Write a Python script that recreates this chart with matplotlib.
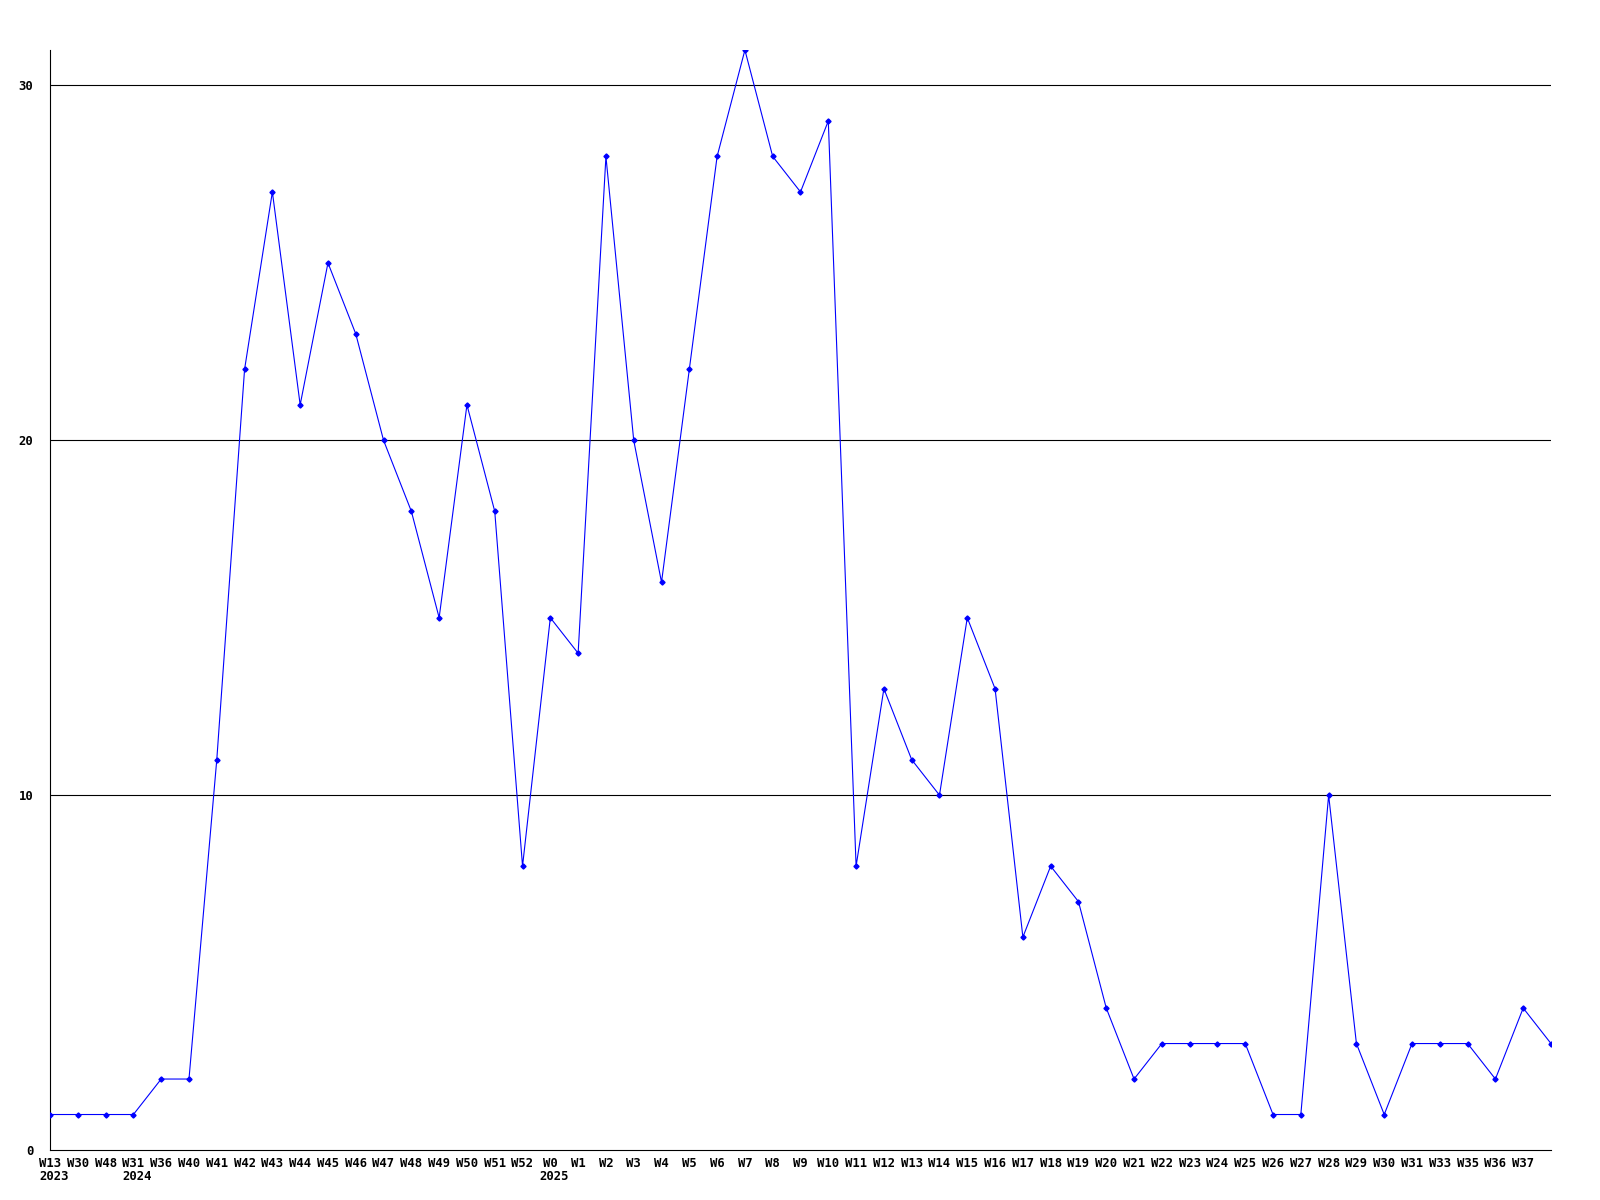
import matplotlib
matplotlib.use('Agg')
import matplotlib.pyplot as plt
from matplotlib.transforms import blended_transform_factory

weeks = ['W13', 'W30', 'W48', 'W31', 'W36', 'W40', 'W41', 'W42', 'W43', 'W44',
         'W45', 'W46', 'W47', 'W48', 'W49', 'W50', 'W51', 'W52', 'W0', 'W1',
         'W2', 'W3', 'W4', 'W5', 'W6', 'W7', 'W8', 'W9', 'W10', 'W11',
         'W12', 'W13', 'W14', 'W15', 'W16', 'W17', 'W18', 'W19', 'W20', 'W21',
         'W22', 'W23', 'W24', 'W25', 'W26', 'W27', 'W28', 'W29', 'W30', 'W31',
         'W33', 'W35', 'W36', 'W37', '']
counts = [1, 1, 1, 1, 2, 2, 11, 22, 27, 21,
          25, 23, 20, 18, 15, 21, 18, 8, 15, 14,
          28, 20, 16, 22, 28, 31, 28, 27, 29, 8,
          13, 11, 10, 15, 13, 6, 8, 7, 4, 2,
          3, 3, 3, 3, 1, 1, 10, 3, 1, 3,
          3, 3, 2, 4, 3]
years = {0: '2023', 3: '2024', 18: '2025'}

font = 'DejaVu Sans Mono'
fsize = 8.8

fig = plt.figure(figsize=(16, 12), dpi=100)
ax = fig.add_axes([50 / 1600, 1 - 1150 / 1200, 1501 / 1600, 1100 / 1200])

xs = list(range(len(counts)))
ax.plot(xs, counts, color='#0000ff', linewidth=0.8, marker='D', markersize=2.6,
        zorder=3)

ax.set_xlim(0, len(counts) - 1)
ax.set_ylim(0, 31)

# only the three inner grid lines, the 0 line is the axis itself
for y in [10, 20, 30]:
    ax.axhline(y, color='black', linewidth=0.8, zorder=1)

ax.spines['top'].set_visible(False)
ax.spines['right'].set_visible(False)
ax.spines['left'].set_linewidth(0.8)
ax.spines['bottom'].set_linewidth(0.8)

ax.set_yticks([0, 10, 20, 30])
ax.set_yticklabels(['0', '10', '20', '30'], fontfamily=font,
                   fontweight='bold', fontsize=fsize)
ax.tick_params(axis='y', length=0, pad=12)

ax.set_xticks(xs)
ax.set_xticklabels(weeks, fontfamily=font, fontweight='bold', fontsize=fsize)
ax.tick_params(axis='x', length=0, pad=5)

trans = blended_transform_factory(ax.transData, ax.transAxes)
for i, yr in years.items():
    ax.annotate(yr, xy=(i, 0), xycoords=trans, xytext=(-11, -20),
                textcoords='offset pixels', ha='left', va='top',
                fontfamily=font, fontweight='bold', fontsize=fsize)

fig.savefig('out.png', dpi=100, facecolor='white')
